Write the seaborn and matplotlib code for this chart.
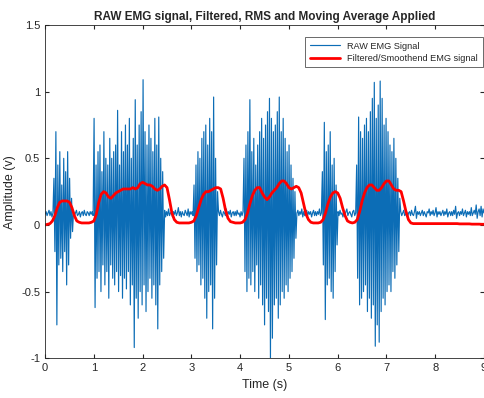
import numpy as np
import pandas as pd
import matplotlib
matplotlib.use("Agg")
import matplotlib.pyplot as plt
import seaborn as sns

quiet_0 = [0.08, 0.10, 0.07, 0.09, 0.11, 0.07, 0.10, 0.06, 0.09]
burst_1 = [0.35, -0.20, 0.70, -0.75, 0.45, -0.30, 0.55, -0.25, 0.30, -0.35,
           0.50, -0.20, 0.40, -0.45, 0.55, -0.30, 0.35, -0.10, 0.20, -0.05]
quiet_1 = [0.10, 0.07, 0.09, 0.11, 0.07, 0.08, 0.10, 0.06, 0.09, 0.10, 0.07,
           0.11, 0.08, 0.07, 0.10, 0.09, 0.07, 0.10, 0.08, 0.10, 0.07]
burst_2 = [0.80, -0.62, 0.45, -0.40, 0.55, -0.35, 0.60, -0.50,
           0.40, -0.30, 0.70, -0.45, 0.50, -0.35, 0.45, -0.55,
           0.65, -0.30, 0.50, -0.40, 0.55, -0.45, 0.60, -0.35,
           0.86, -0.50, 0.45, -0.38, 0.70, -0.55, 0.55, -0.40,
           0.75, -0.48, 0.60, -0.35, 0.80, -0.60, 0.50, -0.45,
           0.65, -0.92, 0.94, -0.55, 0.60, -0.70, 0.75, -0.50,
           0.85, -0.60, 1.09, -0.45, 0.70, -0.65, 0.60, -0.50,
           0.75, -0.40, 0.65, -0.55, 0.55, -0.45, 0.80, -0.60,
           0.60, -0.78, 0.81, -0.45, 0.50, -0.35, 0.40, -0.25]
quiet_2 = [0.11, 0.06, 0.10, 0.07, 0.12, 0.07, 0.09, 0.10, 0.06, 0.10,
           0.08, 0.11, 0.07, 0.09, 0.13, 0.07, 0.10, 0.06, 0.10, 0.08,
           0.07, 0.11, 0.09, 0.07, 0.12, 0.06, 0.10, 0.08, 0.10, 0.07]
burst_3 = [0.30, -0.25, 0.45, -0.35, 0.55, -0.30, 0.50, -0.45, 0.65, -0.40,
           0.70, -0.55, 0.75, -0.70, 0.60, -0.50, 0.80, -0.45, 0.70, -0.78,
           0.96, -0.55, 0.50, -0.30, 0.25]
quiet_3 = [0.10, 0.07, 0.11, 0.08, 0.06, 0.10, 0.09, 0.07, 0.12, 0.07,
           0.10, 0.08, 0.11, 0.06, 0.09, 0.10, 0.07, 0.10, 0.07, 0.11,
           0.08, 0.09, 0.06, 0.10, 0.07, 0.10]
burst_4 = [0.50, -0.35, 0.60, -0.50, 0.70, -0.40, 0.94, -0.45, 0.55, -0.35,
           0.65, -0.50, 0.45, -0.30, 0.60, -0.55, 0.70, -0.45, 0.80, -0.60,
           0.65, -0.75, 0.75, -0.55, 0.85, -0.65, 0.95, -1.00, 0.80, -0.85,
           0.70, -0.60, 0.75, -0.55, 0.85, -0.70, 0.96, -0.60, 0.70, -0.50,
           0.80, -0.55, 0.65, -0.45, 0.55, -0.50, 0.60, -0.40, 0.45, -0.35,
           0.35, -0.25, 0.25, -0.10]
quiet_4 = [0.09, 0.11, 0.07, 0.10, 0.08, 0.12, 0.06, 0.10, 0.07, 0.09,
           0.11, 0.07, 0.10, 0.08, 0.10, 0.06, 0.09, 0.11, 0.07, 0.10,
           0.07, 0.10, 0.08, 0.12, 0.07, 0.09]
burst_5 = [0.40, -0.30, 0.77, -0.71, 0.55, -0.45, 0.60, -0.40, 0.70, -0.50,
           0.45, -0.55, 0.50, -0.35, 0.30, -0.15]
quiet_5 = [0.10, 0.07, 0.11, 0.08, 0.09, 0.06, 0.10, 0.07, 0.10, 0.12,
           0.07, 0.09, 0.10, 0.08, 0.06, 0.10, 0.11, 0.07, 0.09]
burst_6 = [0.45, -0.40, 0.81, -0.60, 0.70, -0.55, 0.65, -0.50, 0.75, -0.45,
           0.80, -0.65, 0.70, -0.55, 0.85, -0.70, 0.95, -0.60, 1.07, -0.91,
           0.80, -0.75, 0.90, -0.88, 1.08, -0.65, 0.95, -0.55, 0.75, -0.60,
           0.80, -0.50, 0.70, -0.45, 0.60, -0.50, 0.55, -0.35, 0.65, -0.40,
           0.50, -0.30, 0.35, -0.20, 0.20]
quiet_6 = [0.10, 0.07, 0.09, 0.11, 0.07, 0.08, 0.10, 0.06, 0.09, 0.10,
           0.07, 0.11, 0.08, 0.07, 0.10, 0.14, 0.05, 0.10, 0.08, 0.10,
           0.07, 0.09, 0.11, 0.07, 0.10, 0.08, 0.06, 0.10, 0.09, 0.12,
           0.07, 0.10, 0.08, 0.11, 0.07, 0.09, 0.13, 0.06, 0.10, 0.08,
           0.10, 0.07, 0.09, 0.11, 0.07, 0.10, 0.08, 0.12, 0.06, 0.09,
           0.10, 0.07, 0.10, 0.07, 0.11, 0.08, 0.14, 0.05, 0.09, 0.10,
           0.07, 0.10, 0.08, 0.12, 0.07, 0.09, 0.11, 0.06, 0.10, 0.08,
           0.10, 0.07, 0.13, 0.07, 0.09, 0.11, 0.08, 0.15, 0.05, 0.10,
           0.12, 0.07, 0.14, 0.06, 0.12, 0.09]

# filtered / smoothed envelope, every 0.05 s
smooth = [0.00, 0.005, 0.01, 0.03, 0.07, 0.13, 0.17, 0.18, 0.18, 0.18,
          0.17, 0.13, 0.07, 0.03, 0.02, 0.015, 0.015, 0.015, 0.015, 0.02,
          0.03, 0.08, 0.17, 0.23, 0.25, 0.24, 0.21, 0.20, 0.22, 0.24,
          0.25, 0.26, 0.27, 0.27, 0.27, 0.27, 0.28, 0.27, 0.28, 0.31,
          0.32, 0.31, 0.30, 0.30, 0.29, 0.27, 0.26, 0.27, 0.29, 0.30,
          0.28, 0.19, 0.09, 0.04, 0.02, 0.015, 0.015, 0.015, 0.015, 0.015,
          0.02, 0.03, 0.07, 0.13, 0.19, 0.23, 0.25, 0.25, 0.26, 0.27,
          0.28, 0.28, 0.27, 0.20, 0.11, 0.05, 0.025, 0.02, 0.015, 0.015,
          0.015, 0.02, 0.04, 0.09, 0.16, 0.22, 0.26, 0.28, 0.28, 0.24,
          0.21, 0.19, 0.21, 0.24, 0.26, 0.28, 0.31, 0.33, 0.33, 0.31,
          0.28, 0.27, 0.28, 0.29, 0.28, 0.24, 0.16, 0.08, 0.04, 0.02,
          0.015, 0.015, 0.015, 0.02, 0.04, 0.09, 0.16, 0.21, 0.24, 0.25,
          0.24, 0.20, 0.13, 0.07, 0.03, 0.02, 0.015, 0.02, 0.04, 0.10,
          0.18, 0.24, 0.28, 0.30, 0.30, 0.28, 0.26, 0.26, 0.28, 0.31,
          0.33, 0.33, 0.30, 0.27, 0.26, 0.26, 0.25, 0.18, 0.10, 0.04,
          0.015, 0.01, 0.01, 0.01, 0.01, 0.01, 0.01, 0.01, 0.01, 0.01,
          0.01, 0.01, 0.01, 0.01, 0.01, 0.01, 0.01, 0.01, 0.01, 0.01,
          0.008, 0.008, 0.008, 0.008, 0.008, 0.006, 0.006, 0.006, 0.006, 0.005,
          0.005]

raw = (quiet_0 + burst_1 + quiet_1 + burst_2 + quiet_2 + burst_3 + quiet_3
       + burst_4 + quiet_4 + burst_5 + quiet_5 + burst_6 + quiet_6)

df_raw = pd.DataFrame({"t": np.linspace(0, 9, len(raw)), "v": raw})
df_smooth = pd.DataFrame({"t": np.linspace(0, 9, len(smooth)), "v": smooth})

sns.set_style("ticks")
plt.rcParams["font.family"] = ["Liberation Sans", "DejaVu Sans"]

fig = plt.figure(figsize=(4.85, 3.98), dpi=100)
ax = fig.add_axes([0.093, 0.10, 0.905, 0.837])

sns.lineplot(data=df_raw, x="t", y="v", color="#0C6DB6", linewidth=0.85,
             label="RAW EMG Signal", ax=ax)
sns.lineplot(data=df_smooth, x="t", y="v", color="red", linewidth=2.0,
             label="Filtered/Smoothend EMG signal", ax=ax)

ax.set_xlim(0, 9)
ax.set_ylim(-1, 1.5)
ax.set_xticks(range(0, 10))
ax.set_yticks([-1, -0.5, 0, 0.5, 1, 1.5])
ax.set_yticklabels(["-1", "-0.5", "0", "0.5", "1", "1.5"])
ax.tick_params(direction="in", top=True, right=True, length=3,
               labelsize=8, colors="#262626")
for s in ax.spines.values():
    s.set_color("#262626")
    s.set_linewidth(0.6)

ax.set_title("RAW EMG signal, Filtered, RMS and Moving Average Applied",
             fontsize=8.5, fontweight="bold", pad=4)
ax.set_xlabel("Time (s)", fontsize=9, color="#262626")
ax.set_ylabel("Amplitude (v)", fontsize=9, color="#262626")

leg = ax.legend(loc="upper right", bbox_to_anchor=(0.997, 0.964), fontsize=6.6,
                frameon=True, fancybox=False, handlelength=3.3,
                borderpad=0.5, labelspacing=0.35, borderaxespad=0)
leg.get_frame().set_edgecolor("#262626")
leg.get_frame().set_linewidth(0.6)

fig.savefig("out.png", dpi=100)
